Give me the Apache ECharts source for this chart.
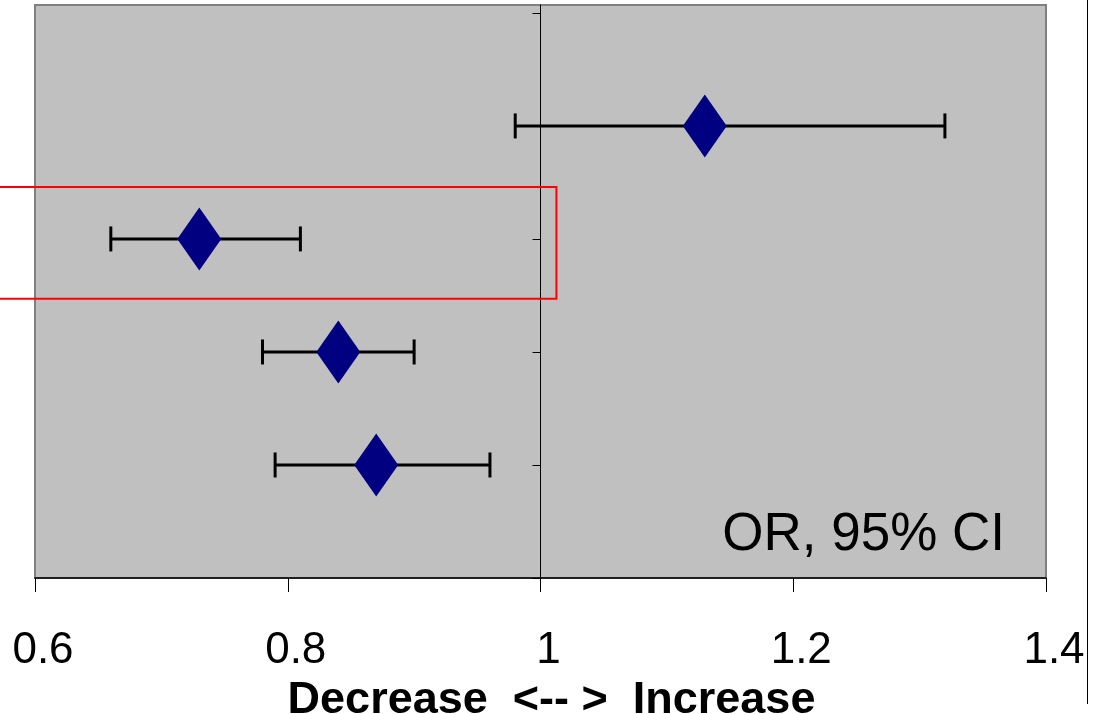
<!DOCTYPE html>
<html><head><meta charset="utf-8">
<script src="https://cdn.jsdelivr.net/npm/echarts@6/dist/echarts.min.js"></script>
<style>html,body{margin:0;padding:0;background:#fff}#c{width:1093px;height:714px}</style>
</head><body><div id="c"></div>
<script>
// ---- data ----
const rows = [4, 3, 2, 1];
const oddsRatio = [1.13, 0.73, 0.84, 0.87];
const ciLow = [0.98, 0.66, 0.78, 0.79];
const ciHigh = [1.32, 0.81, 0.90, 0.96];
const xTicks = [0.6, 0.8, 1, 1.2, 1.4];
const yTicks = [0, 1, 2, 3, 4, 5];
const yMax = 5.07;
const refValue = 1;
const xAxisTitle = 'Decrease  <-- >  Increase';
const noteText = 'OR, 95% CI';
// highlighted row box (data coordinates)
const boxXMax = 1.0126;
const boxYLow = 2.47;
const boxYHigh = 3.46;

const FONT = "'Liberation Sans', Arial, Helvetica, sans-serif";
const chart = echarts.init(document.getElementById('c'), null, {renderer: 'canvas'});

const ciData = rows.map((r, i) => [ciLow[i], ciHigh[i], r]);
const ptData = rows.map((r, i) => [oddsRatio[i], r]);

const option = {
  animation: false,
  grid: {left: 35, right: 47, top: 5, bottom: 136, show: true, containLabel: false,
         outerBoundsMode: 'none',
         backgroundColor: '#C0C0C0', borderColor: '#808080', borderWidth: 2},
  xAxis: {
    type: 'value', min: xTicks[0], max: xTicks[xTicks.length - 1], interval: 0.2,
    axisLine: {show: true, lineStyle: {color: '#000', width: 1.5}},
    axisTick: {show: true, length: 14, lineStyle: {color: '#000', width: 1}},
    splitLine: {show: false},
    axisLabel: {color: '#000', fontFamily: FONT, fontSize: 44, margin: 51, padding: [0, 0, 0, 16]},
    name: xAxisTitle, nameLocation: 'middle', nameGap: 94,
    nameTextStyle: {color: '#000', fontFamily: FONT, fontSize: 45, fontWeight: 'bold', padding: [0, 0, 0, 22]}
  },
  yAxis: {
    type: 'value', min: 0, max: yMax, interval: 1, position: 'left',
    axisLine: {show: true, lineStyle: {color: '#000', width: 1}},
    axisTick: {show: true, length: 8, customValues: yTicks, lineStyle: {color: '#000', width: 1}},
    axisLabel: {show: false},
    splitLine: {show: false}
  },
  series: [
    {
      type: 'custom', data: ciData, encode: {x: [0, 1], y: 2}, z: 2,
      renderItem: function (params, api) {
        const a = api.coord([api.value(0), api.value(2)]);
        const b = api.coord([api.value(1), api.value(2)]);
        const h = 12.5;
        const st = {stroke: '#000', lineWidth: 3};
        return {type: 'group', children: [
          {type: 'line', shape: {x1: a[0], y1: a[1], x2: b[0], y2: b[1]}, style: st},
          {type: 'line', shape: {x1: a[0], y1: a[1] - h, x2: a[0], y2: a[1] + h}, style: st},
          {type: 'line', shape: {x1: b[0], y1: b[1] - h, x2: b[0], y2: b[1] + h}, style: st}
        ]};
      }
    },
    {
      type: 'scatter', data: ptData, symbol: 'diamond', symbolSize: [44, 63], z: 3,
      itemStyle: {color: '#000080', opacity: 1}
    }
  ]
};
chart.setOption(option);

const pxRef = chart.convertToPixel({xAxisIndex: 0}, refValue);
chart.setOption({yAxis: {offset: option.grid.left - pxRef}});

const bx = chart.convertToPixel({xAxisIndex: 0}, boxXMax);
const by1 = chart.convertToPixel({yAxisIndex: 0}, boxYHigh);
const by2 = chart.convertToPixel({yAxisIndex: 0}, boxYLow);

chart.setOption({
  graphic: [
    {type: 'rect', shape: {x: -5, y: by1, width: bx + 5, height: by2 - by1},
     style: {fill: 'none', stroke: '#FF0000', lineWidth: 2}, z: 10},
    {type: 'text', x: 1005, y: 535,
     style: {text: noteText, fill: '#000', font: '53px ' + FONT, align: 'right', verticalAlign: 'middle'}, z: 10},
    {type: 'line', shape: {x1: 1087.5, y1: 0, x2: 1087.5, y2: 704},
     style: {stroke: '#000', lineWidth: 1}, z: 10}
  ]
});
</script></body></html>
